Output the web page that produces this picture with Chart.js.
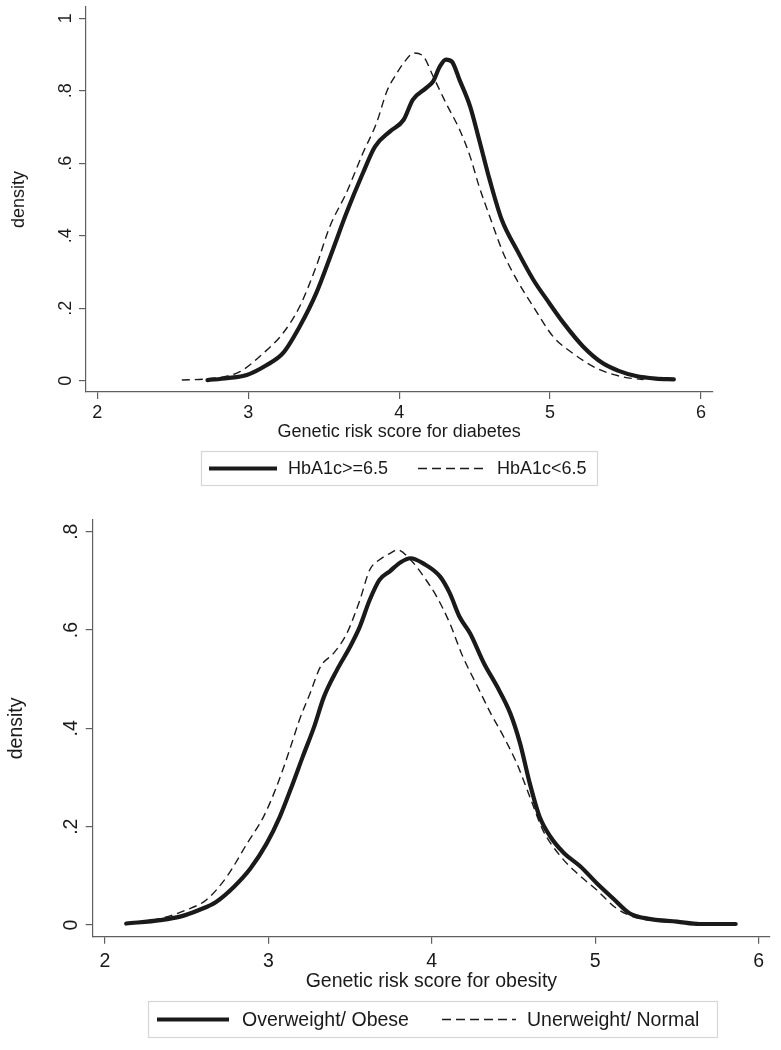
<!DOCTYPE html>
<html>
<head>
<meta charset="utf-8">
<script src="https://cdn.jsdelivr.net/npm/chart.js@4.4.1/dist/chart.umd.min.js"></script>
<style>
  body { margin: 0; background: #fff; }
  #wrap { position: relative; width: 781px; height: 1050px; }
  canvas { position: absolute; left: 0; }
</style>
</head>
<body>
<div id="wrap">
  <canvas id="diabetes" width="781" height="500" style="top:0"></canvas>
  <canvas id="obesity" width="781" height="550" style="top:500px"></canvas>
</div>
<script>
// ---- top panel: genetic risk score for diabetes ----
const diabXHigh = [2.73, 2.86, 2.99, 3.12, 3.23, 3.34, 3.45, 3.56, 3.65, 3.76, 3.84, 3.94, 4.03, 4.09, 4.18, 4.225, 4.27, 4.31, 4.35, 4.40, 4.47, 4.53, 4.60, 4.68, 4.78, 4.89, 4.98, 5.09, 5.22, 5.35, 5.45, 5.57, 5.70, 5.82];
const densHigh  = [0.002, 0.007, 0.016, 0.043, 0.076, 0.149, 0.241, 0.361, 0.462, 0.573, 0.646, 0.688, 0.72, 0.775, 0.808, 0.826, 0.867, 0.886, 0.88, 0.83, 0.757, 0.665, 0.554, 0.444, 0.361, 0.278, 0.223, 0.159, 0.094, 0.048, 0.028, 0.013, 0.006, 0.004];

const diabXLow = [2.56, 2.72, 2.85, 2.945, 3.10, 3.23, 3.34, 3.45, 3.54, 3.65, 3.76, 3.85, 3.92, 3.98, 4.03, 4.10, 4.16, 4.225, 4.31, 4.40, 4.47, 4.53, 4.60, 4.69, 4.78, 4.89, 5.02, 5.15, 5.31, 5.48, 5.62];
const densLow  = [0.002, 0.005, 0.012, 0.025, 0.076, 0.131, 0.204, 0.315, 0.425, 0.518, 0.628, 0.711, 0.80, 0.845, 0.877, 0.904, 0.895, 0.84, 0.766, 0.693, 0.619, 0.536, 0.453, 0.352, 0.278, 0.204, 0.122, 0.076, 0.034, 0.011, 0.003];

// ---- bottom panel: genetic risk score for obesity ----
const obesX   = [2.13, 2.34, 2.46, 2.58, 2.68, 2.79, 2.89, 2.99, 3.07, 3.15, 3.21, 3.28, 3.34, 3.42, 3.50, 3.56, 3.62, 3.68, 3.745, 3.81, 3.87, 3.95, 4.05, 4.11, 4.17, 4.235, 4.32, 4.40, 4.48, 4.54, 4.60, 4.66, 4.725, 4.81, 4.91, 5.01, 5.11, 5.21, 5.34, 5.50, 5.64, 5.86];
const obesDens = [0.003, 0.010, 0.017, 0.031, 0.047, 0.078, 0.115, 0.166, 0.22, 0.288, 0.342, 0.403, 0.464, 0.519, 0.566, 0.607, 0.661, 0.702, 0.72, 0.738, 0.746, 0.735, 0.709, 0.675, 0.627, 0.593, 0.532, 0.485, 0.431, 0.37, 0.288, 0.220, 0.18, 0.146, 0.119, 0.085, 0.054, 0.024, 0.012, 0.007, 0.002, 0.002];

const normX   = [2.13, 2.34, 2.50, 2.62, 2.745, 2.87, 2.97, 3.05, 3.13, 3.19, 3.255, 3.32, 3.40, 3.48, 3.56, 3.62, 3.68, 3.745, 3.79, 3.87, 3.95, 4.03, 4.11, 4.19, 4.28, 4.36, 4.44, 4.52, 4.60, 4.68, 4.79, 4.89, 5.01, 5.13, 5.26, 5.40, 5.55];
const normDens = [0.003, 0.013, 0.031, 0.051, 0.098, 0.166, 0.22, 0.281, 0.356, 0.417, 0.471, 0.526, 0.553, 0.593, 0.661, 0.722, 0.743, 0.756, 0.763, 0.743, 0.709, 0.668, 0.614, 0.546, 0.485, 0.431, 0.383, 0.329, 0.261, 0.193, 0.139, 0.105, 0.071, 0.034, 0.014, 0.008, 0.004];

const xTicks = [2, 3, 4, 5, 6];
const diabYTicks = [0, 0.2, 0.4, 0.6, 0.8, 1];
const obesYTicks = [0, 0.2, 0.4, 0.6, 0.8];
const diabLabels = ['HbA1c>=6.5', 'HbA1c<6.5'];
const obesLabels = ['Overweight/ Obese', 'Unerweight/ Normal'];

const AXIS = '#5f5f5f';
const INK = '#1a1a1a';
const FONT = '"Liberation Sans", Arial, Helvetica, sans-serif';

// stata style labels: 0 .2 .4 ... 1
function fmt(v) {
  const r = Math.round(v * 10) / 10;
  return String(r).replace(/^0\./, '.');
}

function pts(xs, ys) {
  return xs.map((x, i) => ({ x: x, y: ys[i] }));
}

// draws tick labels, titles and boxed legend the way stata does
const stataText = {
  id: 'stataText',
  afterDraw(chart, args, o) {
    const ctx = chart.ctx, xs = chart.scales.x, ys = chart.scales.y, ca = chart.chartArea;
    ctx.save();
    ctx.fillStyle = INK;
    ctx.font = o.size + 'px ' + FONT;
    ctx.textAlign = 'center';
    ctx.textBaseline = 'middle';
    xs.ticks.forEach(t => ctx.fillText(fmt(t.value), xs.getPixelForValue(t.value), o.xLabelY));
    ctx.fillText(o.xTitle, (ca.left + ca.right) / 2, o.xTitleY);

    ys.ticks.forEach(t => {
      ctx.save();
      ctx.translate(o.yLabelX, ys.getPixelForValue(t.value));
      ctx.rotate(-Math.PI / 2);
      ctx.textBaseline = 'alphabetic';
      ctx.fillText(fmt(t.value), 0, 0);
      ctx.restore();
    });
    ctx.save();
    ctx.translate(o.yTitleX, (ca.top + ca.bottom) / 2);
    ctx.rotate(-Math.PI / 2);
    ctx.fillText('density', 0, 0);
    ctx.restore();

    // legend box
    const L = o.legend;
    ctx.strokeStyle = '#d6d6d6';
    ctx.lineWidth = 1.2;
    ctx.strokeRect(L.left, L.top, L.right - L.left, L.bottom - L.top);
    const cy = (L.top + L.bottom) / 2;
    chart.data.datasets.forEach((ds, i) => {
      const it = L.items[i];
      ctx.beginPath();
      ctx.setLineDash(ds.borderDash ? [9, 5] : []);
      ctx.lineWidth = ds.borderWidth;
      ctx.strokeStyle = ds.borderColor;
      ctx.lineCap = 'butt';
      ctx.moveTo(it.x0, cy);
      ctx.lineTo(it.x1, cy);
      ctx.stroke();
      ctx.setLineDash([]);
      ctx.textAlign = 'left';
      ctx.textBaseline = 'middle';
      ctx.fillText(ds.label, it.tx, cy + 1);
    });
    ctx.restore();
  }
};

function axis(min, max, ticks) {
  return {
    type: 'linear',
    min: min,
    max: max,
    afterBuildTicks: s => { s.ticks = ticks.map(v => ({ value: v })); },
    ticks: { display: false },
    grid: { display: true, drawOnChartArea: false, drawTicks: true, tickLength: 7, color: AXIS, lineWidth: 1.2 },
    border: { display: true, color: AXIS, width: 1.2 }
  };
}

function makeChart(id, sets, labels, xRange, yRange, yTicks, padding, text) {
  return new Chart(document.getElementById(id), {
    type: 'line',
    data: {
      datasets: [
        { label: labels[0], data: sets[0], borderColor: INK, borderWidth: 4.2, pointRadius: 0,
          cubicInterpolationMode: 'monotone', borderCapStyle: 'round', borderJoinStyle: 'round' },
        { label: labels[1], data: sets[1], borderColor: INK, borderWidth: 1.4, borderDash: [8, 5], pointRadius: 0,
          cubicInterpolationMode: 'monotone' }
      ]
    },
    options: {
      responsive: false,
      animation: false,
      devicePixelRatio: 1,
      layout: { padding: padding, autoPadding: false },
      plugins: { legend: { display: false }, tooltip: { enabled: false }, stataText: text },
      scales: {
        x: axis(xRange[0], xRange[1], xTicks),
        y: axis(yRange[0], yRange[1], yTicks)
      }
    },
    plugins: [stataText]
  });
}

makeChart('diabetes',
  [pts(diabXHigh, densHigh), pts(diabXLow, densLow)], diabLabels,
  [1.925, 6.075], [-0.031, 1.031], diabYTicks,
  { left: 79, right: 68.7, top: 7, bottom: 101 },
  {
    size: 18, xLabelY: 413.5, xTitleY: 432, yLabelX: 71, yTitleX: 19,
    xTitle: 'Genetic risk score for diabetes',
    legend: { left: 201.5, right: 597.5, top: 451.5, bottom: 485.5,
      items: [{ x0: 209, x1: 277, tx: 288 }, { x0: 418, x1: 484, tx: 497 }] }
  });

makeChart('obesity',
  [pts(obesX, obesDens), pts(normX, normDens)], obesLabels,
  [1.925, 6.07], [-0.0238, 0.8238], obesYTicks,
  { left: 85.7, right: 11, top: 20, bottom: 106.3 },
  {
    size: 19.5, xLabelY: 462, xTitleY: 482, yLabelX: 77, yTitleX: 17,
    xTitle: 'Genetic risk score for obesity',
    legend: { left: 148.5, right: 717.5, top: 501.5, bottom: 537.5,
      items: [{ x0: 157, x1: 229, tx: 242 }, { x0: 442, x1: 516, tx: 527 }] }
  });
</script>
</body>
</html>
